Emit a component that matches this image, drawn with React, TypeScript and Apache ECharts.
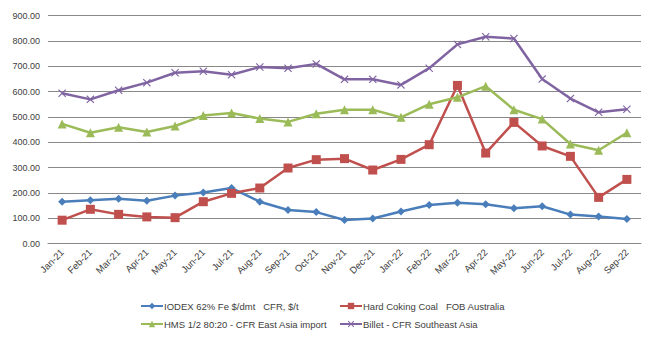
import React, { useEffect, useRef } from "react";
import * as echarts from "echarts";

const categories = ["Jan-21","Feb-21","Mar-21","Apr-21","May-21","Jun-21","Jul-21","Aug-21","Sep-21","Oct-21","Nov-21","Dec-21","Jan-22","Feb-22","Mar-22","Apr-22","May-22","Jun-22","Jul-22","Aug-22","Sep-22"];
const iodex = [165,171,177,169,189,201,219,165,132,124,93,99,126,152,161,155,139,147,114,107,97];
const coking = [92,135,115,105,102,165,198,219,298,331,335,290,332,390,624,357,478,385,344,182,253];
const hms = [472,437,459,440,464,505,515,493,480,512,528,528,498,550,577,621,528,491,393,368,437];
const billet = [593,569,605,635,674,680,666,697,692,709,648,648,626,692,786,816,809,649,572,518,530];
const names = ["IODEX 62% Fe $/dmt   CFR, $/t","Hard Coking Coal   FOB Australia","HMS 1/2 80:20 - CFR East Asia import","Billet - CFR Southeast Asia"];

const FONT = "Liberation Sans";
const X_SYMBOL = "path://M0,1 L1,0 L5,4 L9,0 L10,1 L6,5 L10,9 L9,10 L5,6 L1,10 L0,9 L4,5 Z";

export default function App() {
  const ref = useRef<HTMLDivElement>(null);
  useEffect(() => {
    document.body.style.margin = "0";
    const chart = echarts.init(ref.current!, null, { renderer: "svg" });
    const mk = (name: string, data: number[], color: string, symbol: string, size: number) => ({
      name, type: "line", data, symbol, symbolSize: size,
      lineStyle: { color, width: 2.5 },
      itemStyle: { color },
    });
    const legendText = { fontSize: 9.5, color: "#404040", fontFamily: FONT, padding: [0, 0, 0, -4] };
    const legendBase = { orient: "vertical", top: 301, itemGap: 8, itemWidth: 22, itemHeight: 8, padding: 0, textStyle: legendText };
    chart.setOption({
      animation: false,
      textStyle: { fontFamily: FONT },
      grid: { left: 48, right: 9, top: 15.5, bottom: 96.5 },
      xAxis: {
        type: "category", data: categories, boundaryGap: true,
        axisLine: { lineStyle: { color: "#888" } },
        axisTick: { show: false },
        axisLabel: { rotate: 45, fontSize: 9.5, color: "#404040", fontFamily: FONT, margin: 7, interval: 0 },
      },
      yAxis: {
        type: "value", min: 0, max: 900, interval: 100,
        axisLabel: { formatter: (v: number) => v.toFixed(2), fontSize: 9, color: "#404040", fontFamily: FONT, margin: 8 },
        splitLine: { lineStyle: { color: "#888", width: 1 } },
        axisLine: { show: false },
        axisTick: { show: false },
      },
      legend: [
        { ...legendBase, data: [names[0], names[2]], left: 140 },
        { ...legendBase, data: [names[1], names[3]], left: 339 },
      ],
      series: [
        mk(names[0], iodex, "#4A7EBB", "diamond", 8),
        mk(names[1], coking, "#C0504D", "rect", 9),
        mk(names[2], hms, "#9BBB59", "triangle", 9),
        mk(names[3], billet, "#8064A2", X_SYMBOL, 8),
      ],
    });
    return () => chart.dispose();
  }, []);
  return <div ref={ref} style={{ width: 650, height: 340 }} />;
}
